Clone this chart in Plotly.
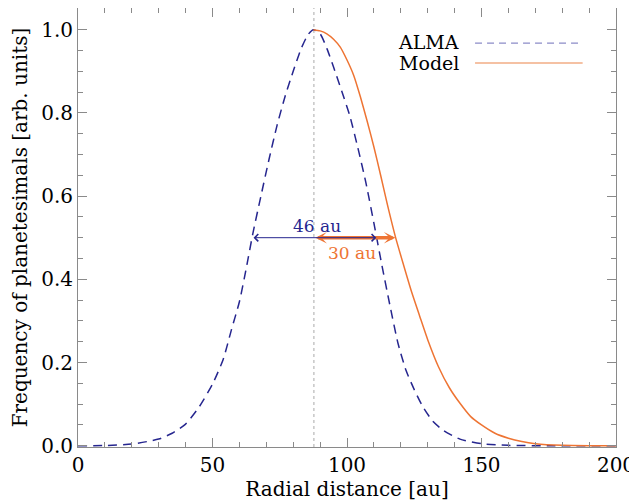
import plotly.graph_objects as go

# ---- data ----
alma_r = [0, 10, 20, 30, 35, 40, 45, 50, 54, 57, 60, 62.5, 65, 68, 71, 74, 77, 80, 83, 85.5,
          87.5, 90, 92.5, 95, 98, 101, 104, 107, 110, 113, 116, 119, 122, 125, 128, 132, 136,
          142, 150, 160, 175, 200]
alma_f = [0.0, 0.0005, 0.004, 0.016, 0.03, 0.052, 0.093, 0.148, 0.208, 0.278, 0.346, 0.425,
          0.51, 0.60, 0.688, 0.77, 0.84, 0.90, 0.955, 0.988,
          1.0, 0.99, 0.955, 0.91, 0.853, 0.794, 0.717, 0.633, 0.535, 0.433, 0.336, 0.245, 0.18,
          0.135, 0.096, 0.058, 0.036, 0.016, 0.005, 0.001, 0.0, 0.0]

model_r = [87.5, 90, 92.5, 95, 97.5, 100, 102.5, 105, 107.5, 110, 112.5, 115, 118, 121, 124,
           127, 130, 134, 138, 142, 146, 150, 155, 160, 165, 170, 180, 190, 200]
model_f = [1.0, 0.997, 0.99, 0.977, 0.958, 0.927, 0.89, 0.838, 0.78, 0.718, 0.65, 0.58, 0.502,
           0.435, 0.37, 0.312, 0.255, 0.19, 0.14, 0.102, 0.07, 0.05, 0.03, 0.018, 0.01, 0.005,
           0.001, 0.0, 0.0]

peak_r = 87.7
half_level = 0.5
alma_fwhm = [64.7, 110.9]
model_hwhm = [87.7, 118.0]
alma_label = "46 au"
model_label = "30 au"
series_names = ["ALMA", "Model"]
x_ticks = [0, 50, 100, 150, 200]
y_ticks = [0.0, 0.2, 0.4, 0.6, 0.8, 1.0]

NAVY = "#26268f"
ORANGE = "#ee7433"
FONT = "DejaVu Serif"

fig = go.Figure()
fig.add_trace(go.Scatter(x=alma_r, y=alma_f, mode="lines", name=series_names[0],
                         line=dict(color=NAVY, width=1.5, dash="9px,6px", shape="spline", smoothing=0.6),
                         showlegend=False))
fig.add_trace(go.Scatter(x=model_r, y=model_f, mode="lines", name=series_names[1],
                         line=dict(color=ORANGE, width=1.5, shape="spline", smoothing=0.6),
                         showlegend=False))

# vertical dotted line at peak
fig.add_shape(type="line", xref="x", yref="paper", x0=peak_r, x1=peak_r, y0=0, y1=1,
              line=dict(color="#aaaaaa", width=1, dash="dot"), layer="below")

annotations = []
# orange thick double arrow (drawn first, below)
annotations.append(dict(x=model_hwhm[1], y=half_level, ax=model_hwhm[0], ay=half_level,
                        xref="x", yref="y", axref="x", ayref="y", text="", showarrow=True,
                        arrowside="end+start", arrowhead=3, startarrowhead=3,
                        arrowsize=0.55, startarrowsize=0.55, arrowwidth=3.5,
                        arrowcolor=ORANGE, standoff=0, startstandoff=0))
# navy thin double arrow
annotations.append(dict(x=alma_fwhm[1], y=half_level, ax=alma_fwhm[0], ay=half_level,
                        xref="x", yref="y", axref="x", ayref="y", text="", showarrow=True,
                        arrowside="end+start", arrowhead=4, startarrowhead=4,
                        arrowsize=1.4, startarrowsize=1.4, arrowwidth=1,
                        arrowcolor=NAVY, standoff=0, startstandoff=0))
annotations.append(dict(x=89, y=half_level, xref="x", yref="y", text=alma_label,
                        showarrow=False, yanchor="bottom", yshift=0,
                        font=dict(family=FONT, size=17, color=NAVY)))
annotations.append(dict(x=102, y=half_level, xref="x", yref="y", text=model_label,
                        showarrow=False, yanchor="top", yshift=-3,
                        font=dict(family=FONT, size=17, color=ORANGE)))
# custom legend (text left of line sample)
annotations.append(dict(x=0.712, y=0.922, xref="paper", yref="paper", text=series_names[0],
                        showarrow=False, xanchor="right", yanchor="middle",
                        font=dict(family=FONT, size=19, color="black")))
annotations.append(dict(x=0.712, y=0.874, xref="paper", yref="paper", text=series_names[1],
                        showarrow=False, xanchor="right", yanchor="middle",
                        font=dict(family=FONT, size=19, color="black")))
fig.add_shape(type="line", xref="paper", yref="paper", x0=0.738, x1=0.933, y0=0.920, y1=0.920,
              line=dict(color="#8c8cc8", width=1.3, dash="7px,5px"))
fig.add_shape(type="line", xref="paper", yref="paper", x0=0.738, x1=0.938, y0=0.875, y1=0.875,
              line=dict(color="#f2ad85", width=1.5))

axis_common = dict(showline=True, linecolor="#8a8a8a", linewidth=1, mirror="allticks",
                   ticks="inside", tickcolor="#8a8a8a", ticklen=9, tickwidth=1,
                   showgrid=False, zeroline=False, automargin=False,
                   tickfont=dict(family=FONT, size=20, color="black"))

# page body has an 8px default margin, so the figure is sized to fit the window
fig.update_layout(
    width=629, height=496,
    margin=dict(l=70, r=21, t=0, b=57),
    paper_bgcolor="white", plot_bgcolor="white",
    annotations=annotations,
    xaxis=dict(range=[0, 200], tickvals=x_ticks, ticktext=[str(v) for v in x_ticks],
               minor=dict(dtick=10, ticks="inside", ticklen=5, tickcolor="#8a8a8a"),
               title=dict(text="Radial distance [au]", standoff=2,
                          font=dict(family=FONT, size=20, color="black")),
               **axis_common),
    yaxis=dict(range=[-0.003, 1.052], tickvals=y_ticks, ticktext=[f"{v:.1f}" for v in y_ticks],
               minor=dict(dtick=0.05, ticks="inside", ticklen=5, tickcolor="#8a8a8a"),
               title=dict(text="Frequency of planetesimals [arb. units]", standoff=8,
                          font=dict(family=FONT, size=20, color="black")),
               **axis_common),
)

fig.write_html("out.html")
